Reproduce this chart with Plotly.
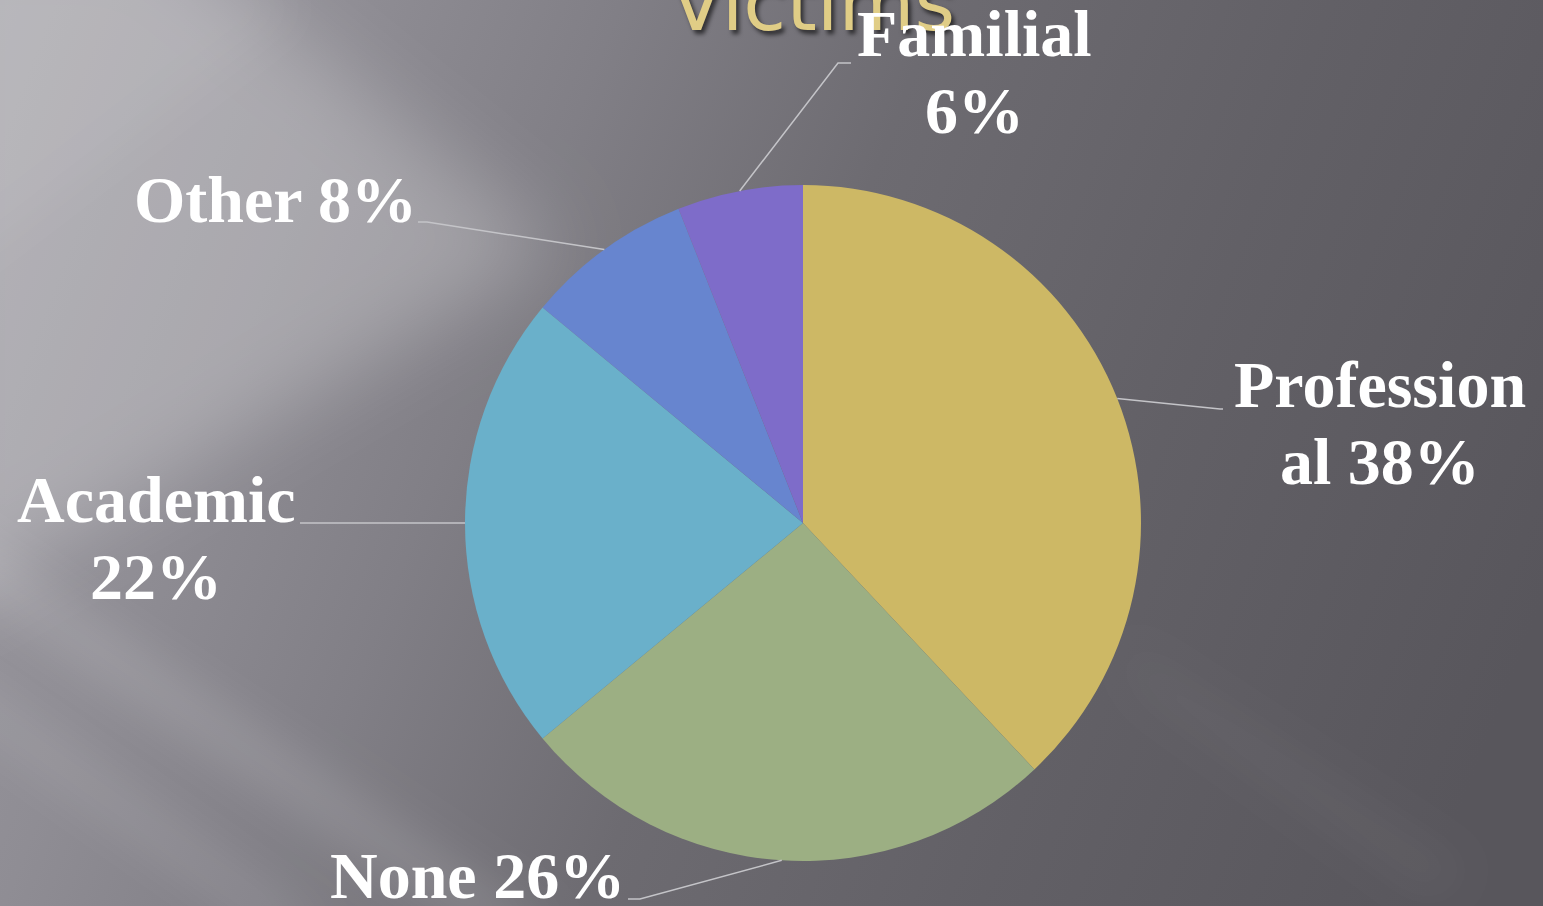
import base64
import math
import plotly.graph_objects as go

# ---------------- data ----------------
labels = ["Professional", "None", "Academic", "Other", "Familial"]
values = [38, 26, 22, 8, 6]
colors = ["#CDB865", "#9CAF83", "#6AB0CA", "#6785CF", "#7E6CC9"]
wrap_at = [10, None, 8, None, 8]          # where the label text wraps
title_text = "Victims"

W, H = 1543, 906
CX, CY, R = 803, 523, 338                  # pie centre / radius in px
FS = 66                                    # label font size
LINE_GAP = 77                              # px between label baselines

def px(x):
    return x / W

def py(y):
    return 1 - y / H

# ---------------- background (svg gradient image) ----------------
def band(points, color, opacity, blur="b"):
    pts = " ".join(f"{x},{y}" for x, y in points)
    return f'<polygon points="{pts}" fill="{color}" fill-opacity="{opacity}" filter="url(#{blur})"/>'

svg = f'''<svg xmlns="http://www.w3.org/2000/svg" width="{W}" height="{H}" viewBox="0 0 {W} {H}" preserveAspectRatio="none">
<defs>
<linearGradient id="g" gradientUnits="userSpaceOnUse" x1="0" y1="0" x2="1543" y2="600">
<stop offset="0" stop-color="#9C9AA1"/>
<stop offset="0.2" stop-color="#8F8D94"/>
<stop offset="0.35" stop-color="#817F86"/>
<stop offset="0.53" stop-color="#6D6B71"/>
<stop offset="0.75" stop-color="#626066"/>
<stop offset="1" stop-color="#58565C"/>
</linearGradient>
<filter id="b" x="-30%" y="-30%" width="160%" height="160%"><feGaussianBlur stdDeviation="22"/></filter>
<filter id="c" x="-30%" y="-30%" width="160%" height="160%"><feGaussianBlur stdDeviation="40"/></filter>
</defs>
<rect width="{W}" height="{H}" fill="url(#g)"/>
{band([(-80,-80),(150,-80),(560,250),(-80,620)], "#FFFFFF", 0.24, "c")}
{band([(-80,-80),(190,-80),(300,10),(-80,300)], "#FFFFFF", 0.06, "b")}
{band([(-80,500),(-80,560),(470,930),(560,930)], "#FFFFFF", 0.12)}
{band([(-80,640),(-80,690),(260,930),(330,930)], "#FFFFFF", 0.09)}
{band([(1120,640),(1140,690),(1430,900),(1470,870)], "#FFFFFF", 0.04)}
</svg>'''
svg_uri = "data:image/svg+xml;base64," + base64.b64encode(svg.encode()).decode()

# ---------------- figure ----------------
fig = go.Figure()
fig.add_trace(go.Pie(
    labels=labels,
    values=values,
    marker=dict(colors=colors, line=dict(width=0)),
    sort=False,
    direction="clockwise",
    rotation=0,
    textinfo="none",
    hoverinfo="label+percent",
    showlegend=False,
    domain=dict(x=[px(CX - R), px(CX + R)], y=[py(CY + R), py(CY - R)]),
))

# label layout: (text centre x, first baseline y, elbow x, elbow y, end x)
label_pos = [
    (1380, 408, 1220, 409, 1223),   # Professional
    (477, 899, 640, 899, 628),      # None
    (156, 523, 300, 523, 300),      # Academic
    (275, 223, 427, 222, 418),      # Other
    (975, 57, 838, 63, 851),        # Familial
]

label_font = dict(family="Palatino Linotype, Book Antiqua, Liberation Serif, serif",
                  size=FS, color="#FFFFFF", weight="bold")

annotations = [dict(
    x=px(812), y=py(50), xref="paper", yref="paper",
    xanchor="center", yanchor="bottom", showarrow=False,
    text=title_text,
    font=dict(family="DejaVu Sans, sans-serif", size=78, color="#E0CD86",
              shadow="3px 4px 4px rgba(0,0,0,0.6)"),
)]
shapes = []
total = sum(values)
cum = 0
for name, v, wa, (tx, by, ex, ey, endx) in zip(labels, values, wrap_at, label_pos):
    mid = (cum + v / 2) / total * 2 * math.pi
    cum += v
    sx = CX + R * math.sin(mid)
    sy = CY - R * math.cos(mid)
    text = f"{name} {v}%"
    if wa is None:
        lines = [text]
    elif text[wa] == " ":
        lines = [text[:wa], text[wa + 1:]]
    else:
        lines = [text[:wa], text[wa:]]
    for i, line in enumerate(lines):
        baseline = by + i * LINE_GAP
        annotations.append(dict(
            x=px(tx), y=py(baseline - 0.36 * FS), xref="paper", yref="paper",
            xanchor="center", yanchor="middle", showarrow=False,
            text=line, font=label_font,
        ))
    shapes.append(dict(
        type="path", xref="paper", yref="paper",
        path=f"M {px(sx)},{py(sy)} L {px(ex)},{py(ey)} L {px(endx)},{py(ey)}",
        line=dict(color="#C4C4C8", width=1.5),
    ))

fig.update_layout(
    width=W, height=H,
    margin=dict(l=0, r=0, t=0, b=0),
    paper_bgcolor="#77757B",
    plot_bgcolor="rgba(0,0,0,0)",
    images=[dict(source=svg_uri, xref="paper", yref="paper", x=0, y=1,
                 sizex=1, sizey=1, xanchor="left", yanchor="top",
                 sizing="stretch", layer="below")],
    annotations=annotations,
    shapes=shapes,
)

fig.write_html("out.html", config={"displayModeBar": False},
               post_script="document.body.style.margin='0';document.body.style.overflow='hidden';")
